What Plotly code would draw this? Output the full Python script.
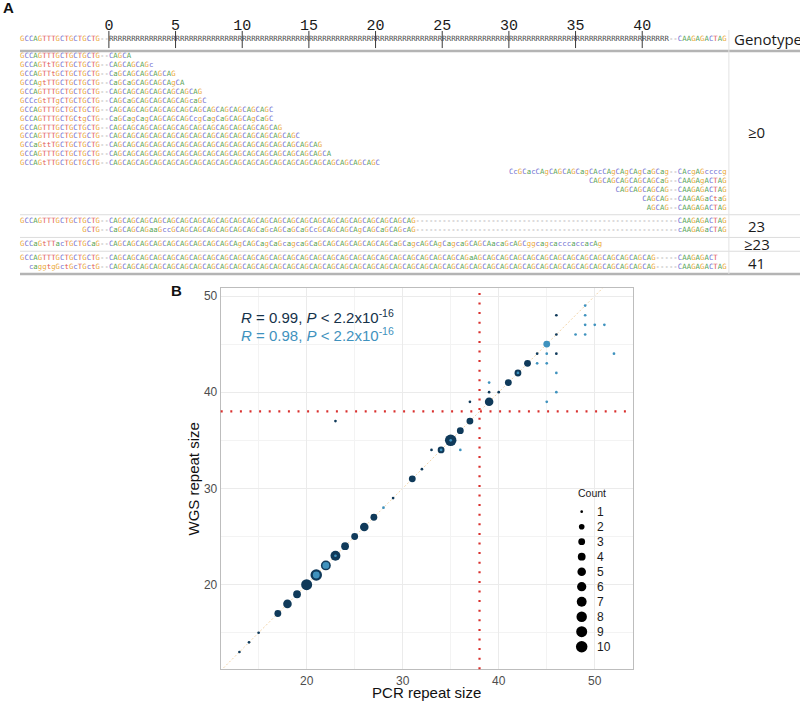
import math
import plotly.graph_objects as go

# ---------------- Panel B data (PCR vs WGS repeat size) ----------------
pcr_dark = [13, 14, 15, 17, 18, 19, 20, 21, 22, 23, 23, 24, 25, 26, 27, 29, 31, 32, 33, 34,
            35, 36, 37, 37, 39, 39, 40, 41, 42, 43, 44, 46, 46, 46]
wgs_dark = [13, 14, 15, 17, 18, 19, 20, 21, 22, 23, 37, 24, 25, 26, 27, 29, 31, 32, 34, 34,
            35, 36, 37, 39, 39, 40, 40, 41, 42, 43, 44, 44, 46, 48]
cnt_dark = [1, 1, 1, 3, 5, 4, 9, 10, 7, 7, 1, 4, 3, 5, 3, 1, 3, 1, 1, 3,
            10, 3, 3, 1, 5, 1, 1, 3, 3, 3, 1, 1, 1, 1]

pcr_light = [21, 22, 23, 28, 34, 35, 36, 39, 42, 44, 45, 45, 45, 45, 46, 46, 48, 49, 49, 49,
             49, 50, 51, 52]
wgs_light = [21, 22, 23, 28, 34, 35, 34, 41, 42, 43, 43, 44, 45, 39, 42, 40, 46, 46, 47, 48,
             49, 47, 47, 44]
cnt_light = [3, 3, 1, 1, 1, 1, 1, 1, 1, 1, 1, 1, 3, 1, 1, 1, 1, 1, 1, 1,
             1, 1, 1, 1]

legend_counts = [1, 2, 3, 4, 5, 6, 7, 8, 9, 10]
stat_dark = "<i>R</i> = 0.99, <i>P</i> &lt; 2.2x10<sup>-16</sup>"
stat_light = "<i>R</i> = 0.98, <i>P</i> &lt; 2.2x10<sup>-16</sup>"
threshold = 38

# ---------------- Panel A data (alignment) ----------------
ruler_seq = "GCCAGTTTGCTGCTGCTG--" + "R" * 126 + "--CAAGAGACTAG"
ruler_numbers = [0, 5, 10, 15, 20, 25, 30, 35, 40]
flank_len = 20  # repeat 0 starts at this column

group_labels = ["≥0", "23", "≥23", "41"]
group_rows = [
    [
        (0, "GCCAGTTTGCTGCTGCTG--CAGCA"),
        (0, "GCCAGTtTGCTGCTGCTG--CAGCAGCAGc"),
        (0, "GCCAGTTtGCTGCTGCTG--CaGCAGCAGCAGCAG"),
        (0, "GCCAgtTTGCTGCTGCTG--CaGCaGCAGCAGCAgCA"),
        (0, "GCCAGTTTGCTGCTGCTG--" + "CAG" * 7),
        (0, "GCCcGtTTgCTGCTGCTG--CAGCaGCAGCAGCAGCAGcaGC"),
        (0, "GCCAGTTTGCTGCTGCTG--" + "CAG" * 12 + "C"),
        (0, "GCCAGTTTGCTGCtgCTG--CaGCagCagCAGCAGCAGCcgCagCaGCAGCAgCaGC"),
        (0, "GCCAGTTTGCTGCTGCTG--" + "CAG" * 13),
        (0, "GCCAGTTTGCTGCTGCTG--" + "CAG" * 14 + "C"),
        (0, "GCCaGttTGCTGCTGCTG--" + "CAG" * 16),
        (0, "GCCAGTTTGCTGCTGCTG--" + "CAG" * 16 + "CA"),
        (0, "GCCAGtTTGCTGCTGCTG--" + "CAG" * 20 + "C"),
        (110, "CcGCacCAgCAGCAGCagCAcCAgCAgCAgCaGCag--CAcgAGccccg"),
        (128, "CAGCAGCAGCAGCAGCaG--CAAGAgACTAG"),
        (134, "CAGCAGCAGCAG--CAAGAGACTAG"),
        (140, "CAGCAG--CAAGAGaCtaG"),
        (141, "AGCAG--CAAGAGACTAG"),
    ],
    [
        (0, "GCCAGTTTGCTGCTGCTG--" + "CAG" * 23 + "-" * 59 + "CAAGAGACTAG"),
        (14, "GCTG--CaGCAGCAGaaGccGCAGCAGCAGCAGCAGCAGCaGcAGCaGCaGCcGCAGCAGCAgCAGCaGCAGcAG"
             + "-" * 59 + "cAAGAGaCTAG"),
    ],
    [
        (0, "GCCaGtTTacTGCTGCaG--CAGCAGCAGCAGCAGCAGCAGCAGCAGCAgCAGCagCaGcagcaGCaGCAGCAG"
            "CAGCAGCAGCaGCagcAGCAgCagcaGCAGCAacaGcAGCggcagcacccaccacAg"),
    ],
    [
        (0, "GCCAGTTTGCTGCTGCTG--" + "CAG" * 27 + "aAG" + "CAG" * 13 + "-----CAAGAGACT"),
        (2, "caggtgGctGcTGctG--" + "CAG" * 41 + "-----CAAGAGACTAG"),
    ],
]

# ---------------- styles ----------------
DARK = "#103a5a"
LIGHT = "#3f92be"
NUC_COLORS = {"A": "#56a456", "C": "#7070d2", "G": "#ebab40", "T": "#e25a57",
              "R": "#4a4a4a", "-": "#8a8a8a"}
SANS = "Liberation Sans, Arial, sans-serif"
MONO = "DejaVu Sans Mono, monospace"


def size_px(c):
    return 2.7 + 8.8 * math.sqrt((c - 1) / 9.0)


fig = go.Figure()

# ---------------- Panel A: character traces ----------------
GAP = 0.55
RULER_SLOT = -1.97
NUM_SLOT = -3.35
HEADER_LINE = -0.62

xs, ys, ts, cs = [], [], [], []


def add_row(start, seq, slot):
    for i, ch in enumerate(seq):
        xs.append(start + i + 0.5)
        ys.append(slot)
        ts.append(ch)
        cs.append(NUC_COLORS.get(ch.upper(), "#555555"))


add_row(0, ruler_seq, RULER_SLOT)

cursor = 0.0
group_spans = []
for gi, rows in enumerate(group_rows):
    if gi > 0:
        cursor += GAP
    first = cursor
    for ri, (start, seq) in enumerate(rows):
        add_row(start, seq, cursor + ri)
    last = cursor + len(rows) - 1
    group_spans.append((first, last))
    cursor = last + 1

fig.add_trace(go.Scatter(
    x=xs, y=ys, text=ts, mode="text", xaxis="x2", yaxis="y2",
    textposition="middle center",
    textfont=dict(family=MONO, size=7.3, color=cs),
    hoverinfo="skip", showlegend=False))

fig.add_trace(go.Scatter(
    x=[flank_len + 3 * k for k in ruler_numbers], y=[NUM_SLOT] * len(ruler_numbers),
    text=[str(k) for k in ruler_numbers], mode="text", xaxis="x2", yaxis="y2",
    textposition="middle center",
    textfont=dict(family="Liberation Mono, monospace", size=15, color="#1a1a1a"),
    hoverinfo="skip", showlegend=False))

shapes = []
for k in ruler_numbers:
    xk = flank_len + 3 * k
    shapes.append(dict(type="line", xref="x2", yref="y2", x0=xk, x1=xk,
                       y0=-2.87, y1=-0.95, line=dict(color="#3a3a3a", width=1)))

# header & separators
shapes.append(dict(type="line", xref="paper", yref="y2", x0=20 / 800, x1=1,
                   y0=HEADER_LINE, y1=HEADER_LINE, line=dict(color="#b4b4b4", width=2.5)))
for gi in range(1, len(group_spans)):
    ysep = (group_spans[gi - 1][1] + group_spans[gi][0]) / 2
    shapes.append(dict(type="line", xref="paper", yref="y2", x0=20 / 800, x1=1,
                       y0=ysep, y1=ysep, line=dict(color="#dcdcdc", width=1)))
bottom = group_spans[-1][1] + 0.78
shapes.append(dict(type="line", xref="paper", yref="y2", x0=20 / 800, x1=1,
                   y0=bottom, y1=bottom, line=dict(color="#b4b4b4", width=2.5)))
shapes.append(dict(type="line", xref="x2", yref="y2", x0=159.5, x1=159.5,
                   y0=-2.98, y1=bottom, line=dict(color="#e2e2e2", width=1)))

annotations = []
annotations.append(dict(x=160.3, y=RULER_SLOT, xref="x2", yref="y2", text="Genotype",
                        showarrow=False, xanchor="left", yanchor="middle",
                        font=dict(family="Open Sans, sans-serif", size=15, color="#1a1a1a")))
for lab, (f, l) in zip(group_labels, group_spans):
    annotations.append(dict(x=165.8, y=(f + l) / 2, xref="x2", yref="y2", text=lab,
                            showarrow=False, xanchor="center", yanchor="middle",
                            font=dict(family="Open Sans, sans-serif", size=15, color="#1a1a1a")))

annotations.append(dict(x=1 / 800, y=1 - 7.5 / 701, xref="paper", yref="paper", text="<b>A</b>",
                        showarrow=False, xanchor="left", yanchor="middle",
                        font=dict(family=SANS, size=15, color="#111")))
annotations.append(dict(x=176 / 800, y=1 - 290 / 701, xref="paper", yref="paper", text="<b>B</b>",
                        showarrow=False, xanchor="center", yanchor="middle",
                        font=dict(family=SANS, size=15, color="#111")))

# ---------------- Panel B ----------------
XR = [11.05, 53.95]
YR = [11.2, 50.8]

shapes.append(dict(type="line", xref="x", yref="y", x0=XR[0], y0=XR[0], x1=XR[1], y1=XR[1],
                   line=dict(color="#f2d4a8", width=1, dash="2px,2px"), layer="below"))
shapes.append(dict(type="line", xref="x", yref="y domain", x0=threshold, x1=threshold, y0=0, y1=1,
                   line=dict(color="#d9302e", width=2.2, dash="2px,7.6px"), layer="above"))
shapes.append(dict(type="line", xref="x domain", yref="y", x0=0, x1=1, y0=threshold, y1=threshold,
                   line=dict(color="#d9302e", width=2.2, dash="2px,7.6px"), layer="above"))
# legend background
shapes.append(dict(type="rect", xref="paper", yref="paper", x0=573 / 800, x1=620 / 800,
                   y0=1 - 666 / 701, y1=1 - 496 / 701, fillcolor="white",
                   line=dict(width=0), layer="below"))

fig.add_trace(go.Scatter(
    x=pcr_dark, y=wgs_dark, mode="markers", xaxis="x", yaxis="y",
    marker=dict(size=[size_px(c) for c in cnt_dark], color=DARK, opacity=1, line=dict(width=0)),
    showlegend=False, hoverinfo="x+y"))
fig.add_trace(go.Scatter(
    x=pcr_light, y=wgs_light, mode="markers", xaxis="x", yaxis="y",
    marker=dict(size=[size_px(c) for c in cnt_light], color=LIGHT, opacity=1, line=dict(width=0)),
    showlegend=False, hoverinfo="x+y"))

annotations.append(dict(x=13.0, y=47.85, xref="x", yref="y", text=stat_dark, showarrow=False,
                        xanchor="left", yanchor="middle",
                        font=dict(family=SANS, size=15, color="#15324a")))
annotations.append(dict(x=13.0, y=45.95, xref="x", yref="y", text=stat_light, showarrow=False,
                        xanchor="left", yanchor="middle",
                        font=dict(family=SANS, size=15, color=LIGHT)))

# manual size legend
fig.add_trace(go.Scatter(
    x=[21.7] * len(legend_counts), y=legend_counts, mode="markers", xaxis="x3", yaxis="y3",
    marker=dict(size=[size_px(c) for c in legend_counts], color="black", opacity=1,
                line=dict(width=0)),
    showlegend=False, hoverinfo="skip"))
for c in legend_counts:
    annotations.append(dict(x=35, y=c, xref="x3", yref="y3", text=str(c), showarrow=False,
                            xanchor="left", yanchor="middle",
                            font=dict(family=SANS, size=12, color="#1a1a1a")))
annotations.append(dict(x=16, y=-0.27, xref="x3", yref="y3", text="Count", showarrow=False,
                        xanchor="left", yanchor="middle",
                        font=dict(family=SANS, size=10.5, color="#1a1a1a")))

axis_common = dict(
    showgrid=True, gridcolor="#ebebeb", gridwidth=1, zeroline=False,
    showline=True, mirror=True, linecolor="#bdbdbd", linewidth=1, ticks="",
    tickfont=dict(family=SANS, size=12, color="#4d4d4d"),
    minor=dict(tickvals=[15, 25, 35, 45], showgrid=True, gridcolor="#f3f3f3", gridwidth=1),
)

fig.update_layout(
    width=800, height=701, margin=dict(l=0, r=0, t=0, b=0),
    paper_bgcolor="white", plot_bgcolor="rgba(0,0,0,0)",
    template="none", showlegend=False, hovermode="closest",
    xaxis=dict(domain=[220.7 / 800, 632.7 / 800], range=XR, tickvals=[20, 30, 40, 50],
               anchor="y",
               title=dict(text="PCR repeat size", standoff=4,
                          font=dict(family=SANS, size=15, color="#111")),
               **axis_common),
    yaxis=dict(domain=[(701 - 669.3) / 701, (701 - 288.3) / 701], range=YR,
               tickvals=[20, 30, 40, 50], anchor="x",
               title=dict(text="WGS repeat size", standoff=0,
                          font=dict(family=SANS, size=15, color="#111")),
               **axis_common),
    xaxis2=dict(domain=[0, 1], range=[-4.5, 175.5], visible=False, anchor="y2"),
    yaxis2=dict(domain=[0, 1], range=[72.4, -6.348], visible=False, anchor="x2"),
    xaxis3=dict(domain=[0.7, 0.8], range=[0, 80], visible=False, anchor="y3"),
    yaxis3=dict(domain=[41 / 701, 221 / 701], range=[10.887, -1.113], visible=False, anchor="x3"),
    shapes=shapes, annotations=annotations,
)

fig.write_html("out.html", config={"displayModeBar": False},
               post_script="document.body.style.margin='0px';document.body.style.padding='0px';")
